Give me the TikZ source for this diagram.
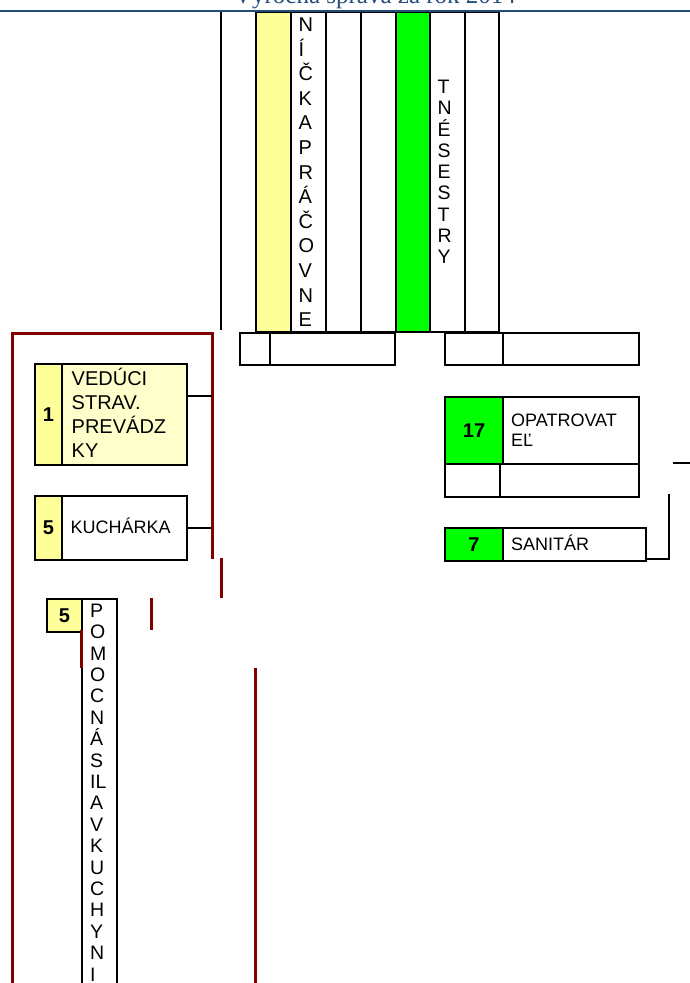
\documentclass[tikz,border=0pt]{standalone}
\usepackage{fontspec}
\setmainfont{Liberation Sans}
\newfontfamily\hdrfont{Liberation Serif}
\definecolor{cyel}{RGB}{255,255,153}
\definecolor{clyel}{RGB}{255,255,204}
\definecolor{cgrn}{RGB}{0,255,0}
\definecolor{cred}{RGB}{128,0,0}
\definecolor{cblue}{RGB}{36,78,122}
\newcommand\fl{\rule{0pt}{1em}}
\newcommand\fsz[2]{\fontsize{#1}{#2}\selectfont}
\begin{document}
\begin{tikzpicture}[x=1pt,y=-1pt,
  cell/.style={draw=black,line width=2pt,rectangle,inner sep=0pt,anchor=north west,fill=white},
  lbl/.style={inner sep=0pt,align=left,text=black},
  num/.style={font=\bfseries\fsz{20}{24}},
  redline/.style={draw=cred,line width=3pt},
  conn/.style={draw=black,line width=2pt}]
\useasboundingbox (0,0) rectangle (690,983);
\clip (0,0) rectangle (690,983);

% top columns
\node[cell,fill=cyel,minimum width=35pt,minimum height=320pt] (c1) at (255,11) {};
\node[cell,minimum width=35pt,minimum height=320pt] (c2) at (290,11) {};
\node[cell,minimum width=35pt,minimum height=320pt] (c3) at (325,11) {};
\node[cell,minimum width=35pt,minimum height=320pt] (c4) at (360,11) {};
\node[cell,fill=cgrn,minimum width=34pt,minimum height=320pt] (c5) at (395,11) {};
\node[cell,minimum width=35pt,minimum height=320pt] (c6) at (429,11) {};
\node[cell,minimum width=34pt,minimum height=320pt] (c7) at (464,11) {};
\node[lbl,anchor=north west,font=\fsz{20}{24.6}] (t2) at (298.5,11.3) {\fl N\\Í\\Č\\K\\A\\P\\R\\Á\\Č\\O\\V\\N\\E};
\node[lbl,anchor=north west,font=\fsz{19.5}{21.25}] (t6) at (437.5,73.8) {\fl T\\N\\É\\S\\E\\S\\T\\R\\Y};

% second row
\node[cell,minimum width=30pt,minimum height=32pt] (r1) at (239,332) {};
\node[cell,minimum width=125pt,minimum height=32pt] (r2) at (269,332) {};
\node[cell,minimum width=58pt,minimum height=32pt] (r3) at (444,332) {};
\node[cell,minimum width=136pt,minimum height=32pt] (r4) at (502,332) {};

% veduci
\node[cell,fill=cyel,minimum width=27pt,minimum height=101pt,num] (vedN) at (34,363) {1};
\node[cell,fill=clyel,minimum width=125pt,minimum height=101pt] (vedT) at (61,363) {};
\node[lbl,anchor=north west,font=\fsz{20}{24}] (vedL) at (71.5,365) {\fl VEDÚCI\\STRAV.\\PREVÁDZ\\KY};

% kucharka
\node[cell,fill=cyel,minimum width=27pt,minimum height=64pt,num] (kucN) at (34,495) {5};
\node[cell,minimum width=125pt,minimum height=64pt] (kucT) at (61,495) {};
\node[lbl,anchor=base west,font=\fsz{18}{22}] (kucL) at (70.5,533) {KUCHÁRKA};

% opatrovatel
\node[cell,fill=cgrn,minimum width=58pt,minimum height=67pt,num] (opN) at (444,396) {17};
\node[cell,minimum width=136pt,minimum height=67pt] (opT) at (502,396) {};
\node[lbl,anchor=north west,font=\fsz{18}{20}] (opL) at (511,408) {\fl OPATROVAT\\EĽ};
\node[cell,minimum width=55pt,minimum height=33pt] (opA) at (444,463) {};
\node[cell,minimum width=139pt,minimum height=33pt] (opB) at (499,463) {};

% sanitar
\node[cell,fill=cgrn,minimum width=58pt,minimum height=33pt,num] (sanN) at (444,527) {7};
\node[cell,minimum width=143pt,minimum height=33pt] (sanT) at (502,527) {};
\node[lbl,anchor=base west,font=\fsz{18}{22}] (sanL) at (511,550) {SANITÁR};

% pomocna sila
\node[cell,fill=cyel,minimum width=35pt,minimum height=33pt,num] (pomN) at (46,598) {5};
\node[cell,minimum width=35pt,minimum height=400pt] (pomT) at (81,598) {};
\node[lbl,anchor=north west,font=\fsz{19.5}{21.4}] (pomL) at (90,597.5) {\fl P\\O\\M\\O\\C\\N\\Á\\S\\IL\\A\\V\\K\\U\\C\\H\\Y\\N\\I};

% header
\node[anchor=base,inner sep=0pt,font=\hdrfont\fsz{25}{30},text=cblue] (title) at (375,3) {Výročná správa za rok 2014};
\coordinate (hl) at (0,11);
\coordinate (hr) at (690,11);
\draw[cblue,line width=2.2pt] (hl) -- (hr);

% black vertical at top
\coordinate (v1a) at (221,12);
\coordinate (v1b) at (221,330);
\draw[conn] (v1a) -- (v1b);

% red frame and segments
\coordinate (fA) at (12,990);
\coordinate (fB) at (12,333);
\coordinate (fC) at (212,333);
\coordinate (fD) at (212,559);
\draw[redline] (fA) -- (fB) -- (fC) -- (fD);
\coordinate (s1a) at (221,558); \coordinate (s1b) at (221,598);
\coordinate (s2a) at (151,598); \coordinate (s2b) at (151,630);
\coordinate (s3a) at (81,630);  \coordinate (s3b) at (81,668);
\coordinate (s4a) at (255,668); \coordinate (s4b) at (255,990);
\draw[redline] (s1a) -- (s1b);
\draw[redline] (s2a) -- (s2b);
\draw[redline] (s3a) -- (s3b);
\draw[redline] (s4a) -- (s4b);

% connectors left
\coordinate (k1) at (212,396);
\draw[conn] (k1 -| vedT.east) -- (k1);
\draw[conn] (kucT.east) -- (kucT.east -| fC);

% connectors right
\coordinate (q1) at (673,463);
\coordinate (q2) at (690,463);
\draw[conn] (q1) -- (q2);
\coordinate (q3) at (669,494);
\coordinate (q4) at (669,559);
\draw[conn] (q3) -- (q4) -- (q4 -| sanT.east);
\end{tikzpicture}
\end{document}
